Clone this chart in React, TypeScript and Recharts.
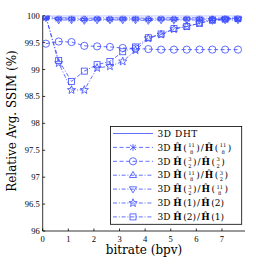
import { LineChart, Line, XAxis, YAxis, Customized } from 'recharts'

const BLUE = '#3b4bff'

const bitrate = [0.125, 0.625, 1.125, 1.625, 2.125, 2.625, 3.125, 3.625, 4.125, 4.625, 5.125, 5.625, 6.125, 6.625, 7.125, 7.625]
const dht = [100, 100, 100, 100, 100, 100, 100, 100, 100, 100, 100, 100, 100, 100, 100, 100]
const h118h118 = [99.97, 99.94, 99.94, 99.93, 99.94, 99.93, 99.94, 99.94, 99.93, 99.94, 99.93, 99.94, 99.94, 99.93, 99.94, 99.94]
const h32h32 = [99.48, 99.52, 99.51, 99.44, 99.43, 99.42, 99.4, 99.39, 99.38, 99.37, 99.37, 99.37, 99.37, 99.37, 99.37, 99.37]
const h118h32 = [99.99, 99.96, 99.96, 99.95, 99.96, 99.96, 99.96, 99.96, 99.95, 99.96, 99.96, 99.96, 99.96, 99.95, 99.96, 99.96]
const h32h118 = [99.96, 99.92, 99.92, 99.91, 99.92, 99.92, 99.92, 99.92, 99.91, 99.92, 99.92, 99.92, 99.92, 99.91, 99.92, 99.92]
const h1h2 = [99.98, 99.12, 98.62, 98.62, 99.03, 99.06, 99.15, 99.36, 99.58, 99.65, 99.75, 99.8, 99.86, 99.92, 99.94, 99.95]
const h2h1 = [99.98, 99.17, 98.78, 98.97, 99.09, 99.15, 99.33, 99.42, 99.59, 99.66, 99.76, 99.8, 99.86, 99.92, 99.94, 99.95]

const xTicks = [0, 1, 2, 3, 4, 5, 6, 7]
const yTicks = [96, 96.5, 97, 97.5, 98, 98.5, 99, 99.5, 100]

const data = bitrate.map((x, i) => ({
  x, dht: dht[i], a: h118h118[i], b: h32h32[i], c: h118h32[i], d: h32h118[i], e: h1h2[i], f: h2h1[i],
}))

type Shape = 'none' | 'ast' | 'o' | 'tu' | 'td' | 'star' | 'sq'

const DASH = '4 2.5'
const DASHDOT = '4 1.8 1 1.8'

const series: { key: string; shape: Shape; dash?: string; label: (string | [string, string])[] | null }[] = [
  { key: 'dht', shape: 'none', label: null },
  { key: 'a', shape: 'ast', dash: DASH, label: [['11', '8'], ['11', '8']] },
  { key: 'b', shape: 'o', dash: DASH, label: [['3', '2'], ['3', '2']] },
  { key: 'c', shape: 'tu', dash: DASHDOT, label: [['11', '8'], ['3', '2']] },
  { key: 'd', shape: 'td', dash: DASHDOT, label: [['3', '2'], ['11', '8']] },
  { key: 'e', shape: 'star', dash: DASHDOT, label: ['1', '2'] },
  { key: 'f', shape: 'sq', dash: DASHDOT, label: ['2', '1'] },
]

function Marker({ shape, cx, cy }: { shape: Shape; cx: number; cy: number }) {
  const p = { fill: 'none', stroke: BLUE, strokeWidth: 0.8 }
  if (shape === 'o') return <circle cx={cx} cy={cy} r={3.6} {...p} />
  if (shape === 'sq') return <rect x={cx - 3} y={cy - 3} width={6} height={6} {...p} />
  if (shape === 'tu') return <polygon points={`${cx},${cy - 3.8} ${cx + 3.6},${cy + 2.3} ${cx - 3.6},${cy + 2.3}`} {...p} />
  if (shape === 'td') return <polygon points={`${cx},${cy + 3.8} ${cx + 3.6},${cy - 2.3} ${cx - 3.6},${cy - 2.3}`} {...p} />
  if (shape === 'ast')
    return <path d={`M${cx - 3},${cy - 2.5}L${cx + 3},${cy + 2.5}M${cx - 3},${cy + 2.5}L${cx + 3},${cy - 2.5}M${cx},${cy - 3.5}L${cx},${cy + 3.5}`} {...p} />
  if (shape === 'star') {
    const pts = []
    for (let k = 0; k < 10; k++) {
      const r = k % 2 ? 1.8 : 4.3
      const a = -Math.PI / 2 + (k * Math.PI) / 5
      pts.push(`${cx + r * Math.cos(a)},${cy + r * Math.sin(a)}`)
    }
    return <polygon points={pts.join(' ')} {...p} />
  }
  return null
}

const FS = 5.2
const DW = 0.636 * FS
const PAD = 1.4

function arg(a: string | [string, string], k: string) {
  if (typeof a === 'string') return [<tspan key={k} dx={1.5}>{`(${a})`}</tspan>]
  const [n, d] = a
  const nw = n.length * DW
  const dw = d.length * DW
  return [
    <tspan key={k + 'o'} dx={1.5}>(</tspan>,
    <tspan key={k + 'n'} fontSize={FS} dx={PAD} dy={-3.4}>{n}</tspan>,
    <tspan key={k + 'd'} fontSize={FS} dx={-(nw + dw) / 2} dy={6.4}>{d}</tspan>,
    <tspan key={k + 'c'} dx={Math.max(nw, dw) - (nw + dw) / 2 + PAD} dy={-3}>)</tspan>,
  ]
}

function Legend() {
  const x0 = 110.5, y0 = 126.5, w = 131.2, h = 97.8
  return (
    <g>
      <rect x={x0} y={y0} width={w} height={h} fill="#fff" stroke="#000" strokeWidth={0.8} />
      {series.map((s, i) => {
        const y = 133.5 + i * 13.9
        return (
          <g key={s.key}>
            <line x1={113} x2={153} y1={y} y2={y} stroke={BLUE} strokeWidth={0.8} strokeDasharray={s.dash} />
            <Marker shape={s.shape} cx={133} cy={y} />
            <text x={157.5} y={y + 3.2} fontSize={9} fontFamily="DejaVu Serif" fill="#000">
              {s.label === null ? <tspan letterSpacing={0.6}>3D DHT</tspan> : [
                <tspan key="p">3D </tspan>,
                <tspan key="h1" fontWeight="bold">Ĥ</tspan>,
                ...arg(s.label[0], 'a'),
                <tspan key="s" dx={1}>/</tspan>,
                <tspan key="h2" fontWeight="bold" dx={1}>Ĥ</tspan>,
                ...arg(s.label[1], 'b'),
              ]}
            </text>
          </g>
        )
      })}
    </g>
  )
}

function Labels() {
  return (
    <g fontFamily="DejaVu Serif" fontSize={12} fill="#000">
      <text x={144} y={254} textAnchor="middle">bitrate (bpv)</text>
      <text transform="rotate(-90)" x={-121} y={15.5} textAnchor="middle">Relative Avg. SSIM (%)</text>
    </g>
  )
}

const tickFont = { fontSize: 8.5, fill: '#000', fontFamily: 'Liberation Serif' }
const ax = { stroke: '#000', strokeWidth: 0.8 }

export default function App() {
  return (
    <div style={{ position: 'absolute', left: 0, top: 0, width: 256, height: 264, background: '#fff' }}>
      <LineChart width={256} height={264} data={data} margin={{ top: 15.7, right: 11, left: 12.7, bottom: 13 }}>
        <XAxis xAxisId="b" type="number" dataKey="x" domain={[0, 7.9]} ticks={xTicks} interval={0} height={20}
          tickSize={-2.5} tickMargin={7.5} tick={tickFont} axisLine={ax} tickLine={ax} allowDataOverflow />
        <XAxis xAxisId="t" orientation="top" type="number" dataKey="x" domain={[0, 7.9]} ticks={xTicks} interval={0} height={0}
          tickSize={-2.5} tickFormatter={() => ''} axisLine={ax} tickLine={ax} allowDataOverflow />
        <YAxis yAxisId="l" type="number" domain={[96, 100]} ticks={yTicks} interval={0} width={30}
          tickSize={-2.5} tickMargin={5.5} tick={tickFont} axisLine={ax} tickLine={ax} allowDataOverflow />
        <YAxis yAxisId="r" orientation="right" type="number" domain={[96, 100]} ticks={yTicks} interval={0} width={0}
          tickSize={-2.5} tickFormatter={() => ''} axisLine={ax} tickLine={ax} allowDataOverflow />
        {series.map((s) => (
          <Line key={s.key} xAxisId="b" yAxisId="l" dataKey={s.key} type="linear" stroke={BLUE} strokeWidth={0.8}
            strokeDasharray={s.dash} isAnimationActive={false} activeDot={false}
            dot={s.shape === 'none' ? false : (p: any) => (
              <g key={p.index}><Marker shape={s.shape} cx={p.cx} cy={p.cy} /></g>
            )} />
        ))}
        <Customized component={() => <Legend />} />
        <Customized component={() => <Labels />} />
      </LineChart>
    </div>
  )
}
